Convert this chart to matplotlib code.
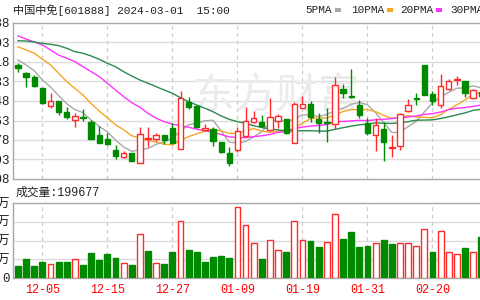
import numpy as np
import matplotlib
matplotlib.use('Agg')
import matplotlib.pyplot as plt
from matplotlib.patches import Rectangle

plt.rcParams['font.family'] = ['Noto Sans CJK SC', 'DejaVu Sans']
MONO = ['Liberation Mono', 'Noto Sans CJK SC']

# trading days shown (last two are just past the right edge)
dates = ['11-30', '12-01', '12-04', '12-05', '12-06', '12-07', '12-08', '12-11', '12-12', '12-13',
         '12-14', '12-15', '12-18', '12-19', '12-20', '12-21', '12-22', '12-25', '12-26', '12-27',
         '12-28', '12-29', '01-02', '01-03', '01-04', '01-05', '01-08', '01-09', '01-10', '01-11',
         '01-12', '01-15', '01-16', '01-17', '01-18', '01-19', '01-22', '01-23', '01-24', '01-25',
         '01-26', '01-29', '01-30', '01-31', '02-01', '02-02', '02-05', '02-06', '02-07', '02-08',
         '02-19', '02-20', '02-21', '02-22', '02-23', '02-26', '02-27', '02-28', '02-29', '03-01']
label_idx = [3, 11, 19, 27, 35, 43, 51, 59]

open_ = [73.90, 73.16, 72.79, 71.69, 70.01, 70.48, 69.47, 68.68, 68.99, 68.46,
         67.25, 66.87, 65.83, 65.14, 65.52, 64.57, 66.85, 66.85, 67.25, 67.89,
         65.90, 70.41, 70.01, 67.73, 67.80, 66.56, 65.58, 65.83, 67.16, 68.52,
         68.52, 67.73, 68.61, 68.77, 66.52, 69.84, 70.17, 68.74, 68.46, 68.30,
         71.59, 70.98, 70.10, 68.39, 67.25, 67.80, 66.02, 66.21, 69.53, 70.79,
         73.90, 71.14, 70.10, 71.59, 72.47, 72.41, 70.74, 71.33, 70.90, 71.30]
high = [74.11, 73.26, 72.95, 71.71, 71.21, 70.48, 69.88, 69.31, 69.69, 68.68,
        68.11, 67.42, 66.31, 65.74, 65.58, 68.04, 67.99, 67.42, 67.25, 68.36,
        71.43, 70.83, 70.01, 68.30, 67.99, 66.56, 66.09, 68.04, 69.88, 69.56,
        69.15, 70.74, 69.25, 68.77, 70.41, 70.95, 70.48, 69.31, 69.79, 72.73,
        72.09, 73.49, 70.58, 68.87, 68.91, 68.52, 67.25, 69.31, 70.64, 71.27,
        73.90, 71.43, 73.04, 72.54, 72.85, 72.41, 71.59, 71.52, 71.60, 71.70]
low = [73.20, 71.84, 71.84, 70.20, 69.79, 69.15, 68.74, 67.99, 68.61, 66.85,
       66.47, 66.33, 64.95, 65.04, 64.79, 64.57, 66.09, 66.71, 66.40, 66.47,
       65.90, 69.69, 67.89, 67.66, 66.21, 65.52, 64.34, 65.67, 67.09, 68.36,
       67.99, 67.66, 67.89, 67.35, 66.47, 69.79, 68.52, 67.42, 66.62, 67.80,
       70.74, 70.74, 68.87, 67.25, 65.77, 64.82, 65.20, 65.83, 69.41, 70.10,
       71.05, 70.10, 69.79, 71.52, 72.00, 70.83, 70.67, 70.76, 70.60, 70.80]
close = [73.61, 72.79, 71.90, 70.26, 70.48, 69.47, 68.99, 69.09, 68.87, 66.87,
         66.52, 66.40, 65.26, 65.52, 64.82, 67.32, 66.94, 67.23, 66.78, 66.47,
         70.74, 69.94, 67.99, 67.89, 66.71, 65.67, 64.57, 67.66, 68.61, 68.90,
         68.14, 68.99, 69.09, 67.42, 70.17, 70.17, 68.93, 68.36, 68.40, 72.00,
         71.27, 70.83, 69.15, 67.42, 68.20, 66.56, 66.14, 69.25, 70.10, 70.64,
         71.05, 70.51, 71.93, 72.41, 72.54, 71.21, 71.52, 70.95, 71.30, 71.10]
volume = [65000, 101000, 65000, 83000, 77000, 88000, 83000, 99000, 70000, 135000,
          94000, 130000, 106000, 81000, 70000, 236000, 146000, 81000, 77000, 141000,
          304000, 151000, 141000, 88000, 110000, 117000, 106000, 377000, 281000, 187000,
          104000, 204000, 150000, 141000, 304000, 204000, 200000, 164000, 193000, 339000,
          209000, 245000, 164000, 169000, 187000, 205000, 182000, 187000, 187000, 173000,
          263000, 141000, 250000, 139000, 128000, 158000, 139000, 218000, 170000, 199677]

ma5 = [74.37, 73.90, 73.35, 72.47, 71.81, 70.98, 70.22, 69.66, 69.38, 68.66,
       68.07, 67.55, 66.78, 66.11, 65.70, 65.86, 65.97, 66.37, 66.62, 66.95,
       67.63, 68.23, 68.38, 68.61, 68.65, 67.64, 66.57, 66.50, 66.64, 67.08,
       67.58, 68.46, 68.75, 68.51, 68.76, 69.17, 69.16, 69.01, 69.21, 69.57,
       69.79, 70.17, 70.33, 70.13, 69.37, 68.43, 67.49, 67.51, 68.05, 68.54,
       69.44, 70.31, 70.85, 71.31, 71.69, 71.72, 71.92, 71.73, 71.50, 71.22]
ma10 = [75.63, 75.32, 75.01, 74.44, 73.90, 73.11, 72.31, 71.68, 71.05, 70.23,
        69.52, 68.89, 68.22, 67.75, 67.18, 66.97, 66.76, 66.58, 66.37, 66.33,
        66.75, 67.10, 67.38, 67.61, 67.80, 67.64, 67.40, 67.44, 67.63, 67.87,
        67.61, 67.51, 67.62, 67.58, 67.92, 68.37, 68.81, 68.88, 68.86, 69.17,
        69.48, 69.66, 69.67, 69.67, 69.47, 69.11, 68.83, 68.92, 69.09, 68.96,
        68.93, 68.90, 69.18, 69.68, 70.11, 70.58, 71.12, 71.29, 71.41, 71.45]
ma20 = [76.65, 76.36, 76.08, 75.79, 75.32, 74.84, 74.53, 74.21, 73.73, 73.26,
        72.79, 72.16, 71.52, 70.89, 70.32, 69.88, 69.31, 68.84, 68.52, 68.28,
        68.14, 67.99, 67.80, 67.68, 67.49, 67.30, 67.08, 67.01, 67.00, 67.10,
        67.18, 67.31, 67.50, 67.59, 67.86, 68.00, 68.10, 68.16, 68.24, 68.52,
        68.54, 68.59, 68.65, 68.62, 68.70, 68.74, 68.82, 68.90, 68.97, 69.06,
        69.21, 69.28, 69.43, 69.67, 69.79, 69.85, 69.97, 70.10, 70.25, 70.20]
ma30 = [76.20, 76.17, 76.08, 75.95, 75.86, 75.73, 75.48, 75.16, 75.01, 74.75,
        74.44, 74.06, 73.73, 73.26, 72.85, 72.47, 72.16, 71.84, 71.52, 71.21,
        70.79, 70.41, 70.10, 69.79, 69.46, 69.06, 68.74, 68.52, 68.36, 68.14,
        67.96, 67.83, 67.74, 67.65, 67.63, 67.66, 67.66, 67.63, 67.62, 67.79,
        67.95, 68.09, 68.22, 68.29, 68.40, 68.37, 68.35, 68.41, 68.52, 68.66,
        68.67, 68.69, 68.82, 68.98, 69.17, 69.35, 69.59, 69.70, 69.79, 69.86]

price_ticks = [63.08, 64.93, 66.78, 68.63, 70.48, 72.33, 74.18, 76.03, 77.88]
vol_ticks = [0, 100000, 200000, 300000, 400000]
vol_labels = ['0', '10万', '20万', '30万', '40万']

RED = '#ff2a2a'
GREEN = '#008a00'
W, H = 480, 300


def fx(x):
    return x / W


def fy(y):
    return 1 - y / H


fig = plt.figure(figsize=(4.8, 3.0), dpi=100)
fig.patch.set_facecolor('white')

# the chart runs a bit past the right edge of the picture, like the source crop
ax = fig.add_axes([fx(12.5), fy(179), (503 - 12.5) / W, (179 - 23) / H])
ax2 = fig.add_axes([fx(12.5), fy(278), (503 - 12.5) / W, (278 - 203) / H])

x = np.arange(len(dates))
o = np.array(open_)
c = np.array(close)
up = c >= o
prev = np.concatenate([[o[0]], c[:-1]])
vol_up = c >= prev

for a in (ax, ax2):
    a.set_xlim(-0.68, 59.68)
    for i in label_idx:
        a.axvline(i, color='#cccccc', lw=0.9, ls=(0, (3, 3)), zorder=0.5)
    for s in a.spines.values():
        s.set_color('#a8a8a8')
        s.set_linewidth(1)

# price panel
ax.set_ylim(price_ticks[0], price_ticks[-1])
ax.set_yticks(price_ticks)
ax.set_yticklabels(['%.2f' % t for t in price_ticks], family=MONO)
for t in price_ticks[1:-1]:
    ax.axhline(t, color='#dcdcdc', lw=1, zorder=0.4)
ax.set_xticks([])
ax.tick_params(axis='y', length=0, pad=2, labelsize=9, labelcolor='#222222')

ax.text(fx(276), fy(97), '东方财富', transform=fig.transFigure, fontsize=30,
        color='#ebebeb', ha='center', va='center', zorder=0.6)

ax.plot(x, ma5, color='#a9a9a9', lw=1, zorder=2)
ax.plot(x, ma10, color='#f5a623', lw=1, zorder=2)
ax.plot(x, ma20, color='#ff33ff', lw=1, zorder=2)
ax.plot(x, ma30, color='#2b8a4e', lw=1, zorder=2)

bw = 0.66
for i in x:
    col = RED if up[i] else GREEN
    ax.vlines(i, low[i], high[i], color=col, lw=1, zorder=3)
    bottom = min(o[i], c[i])
    hgt = max(abs(c[i] - o[i]), 0.02)
    ax.add_patch(Rectangle((i - bw / 2, bottom), bw, hgt,
                           facecolor='white' if up[i] else col,
                           edgecolor=col, lw=1, zorder=4))

# volume panel
ax2.set_ylim(0, 400000)
ax2.set_yticks(vol_ticks)
ax2.set_yticklabels(vol_labels, family=MONO)
for t in vol_ticks[1:-1]:
    ax2.axhline(t, color='#dcdcdc', lw=1, zorder=0.4)
for i in x:
    col = RED if vol_up[i] else GREEN
    ax2.add_patch(Rectangle((i - 0.36, 0), 0.72, volume[i],
                            facecolor='white' if vol_up[i] else col,
                            edgecolor=col, lw=1, zorder=3))
ax2.set_xticks(label_idx)
ax2.set_xticklabels([dates[i] for i in label_idx], family=MONO)
ax2.tick_params(axis='x', length=0, pad=4, labelsize=8.5, labelcolor='#ff0000')
ax2.tick_params(axis='y', length=0, pad=2, labelsize=9, labelcolor='#222222')

# header texts
fig.text(fx(13), fy(10), '中国中免[601888] 2024-03-01  15:00', fontsize=8,
         family=MONO, color='#222222', va='center', ha='left')
fig.text(fx(16), fy(193), '成交量:199677', fontsize=8.5, family=MONO,
         color='#222222', va='center', ha='left')

legend = [('5PMA', 305, '#a9a9a9'), ('10PMA', 351, '#f5a623'),
          ('20PMA', 400, '#ff33ff'), ('30PMA', 450, '#2b8a4e')]
for name, lx, col in legend:
    t = fig.text(fx(lx), fy(10), name, fontsize=8, family=MONO,
                 color='#222222', va='center', ha='left')
    fig.canvas.draw()
    ext = t.get_window_extent()
    fig.add_artist(Rectangle((fx(ext.x1 + 3), fy(11.5)), 6 / W, 3 / H,
                             transform=fig.transFigure, facecolor=col,
                             edgecolor='none'))

fig.savefig('out.png', dpi=100, facecolor='white')
